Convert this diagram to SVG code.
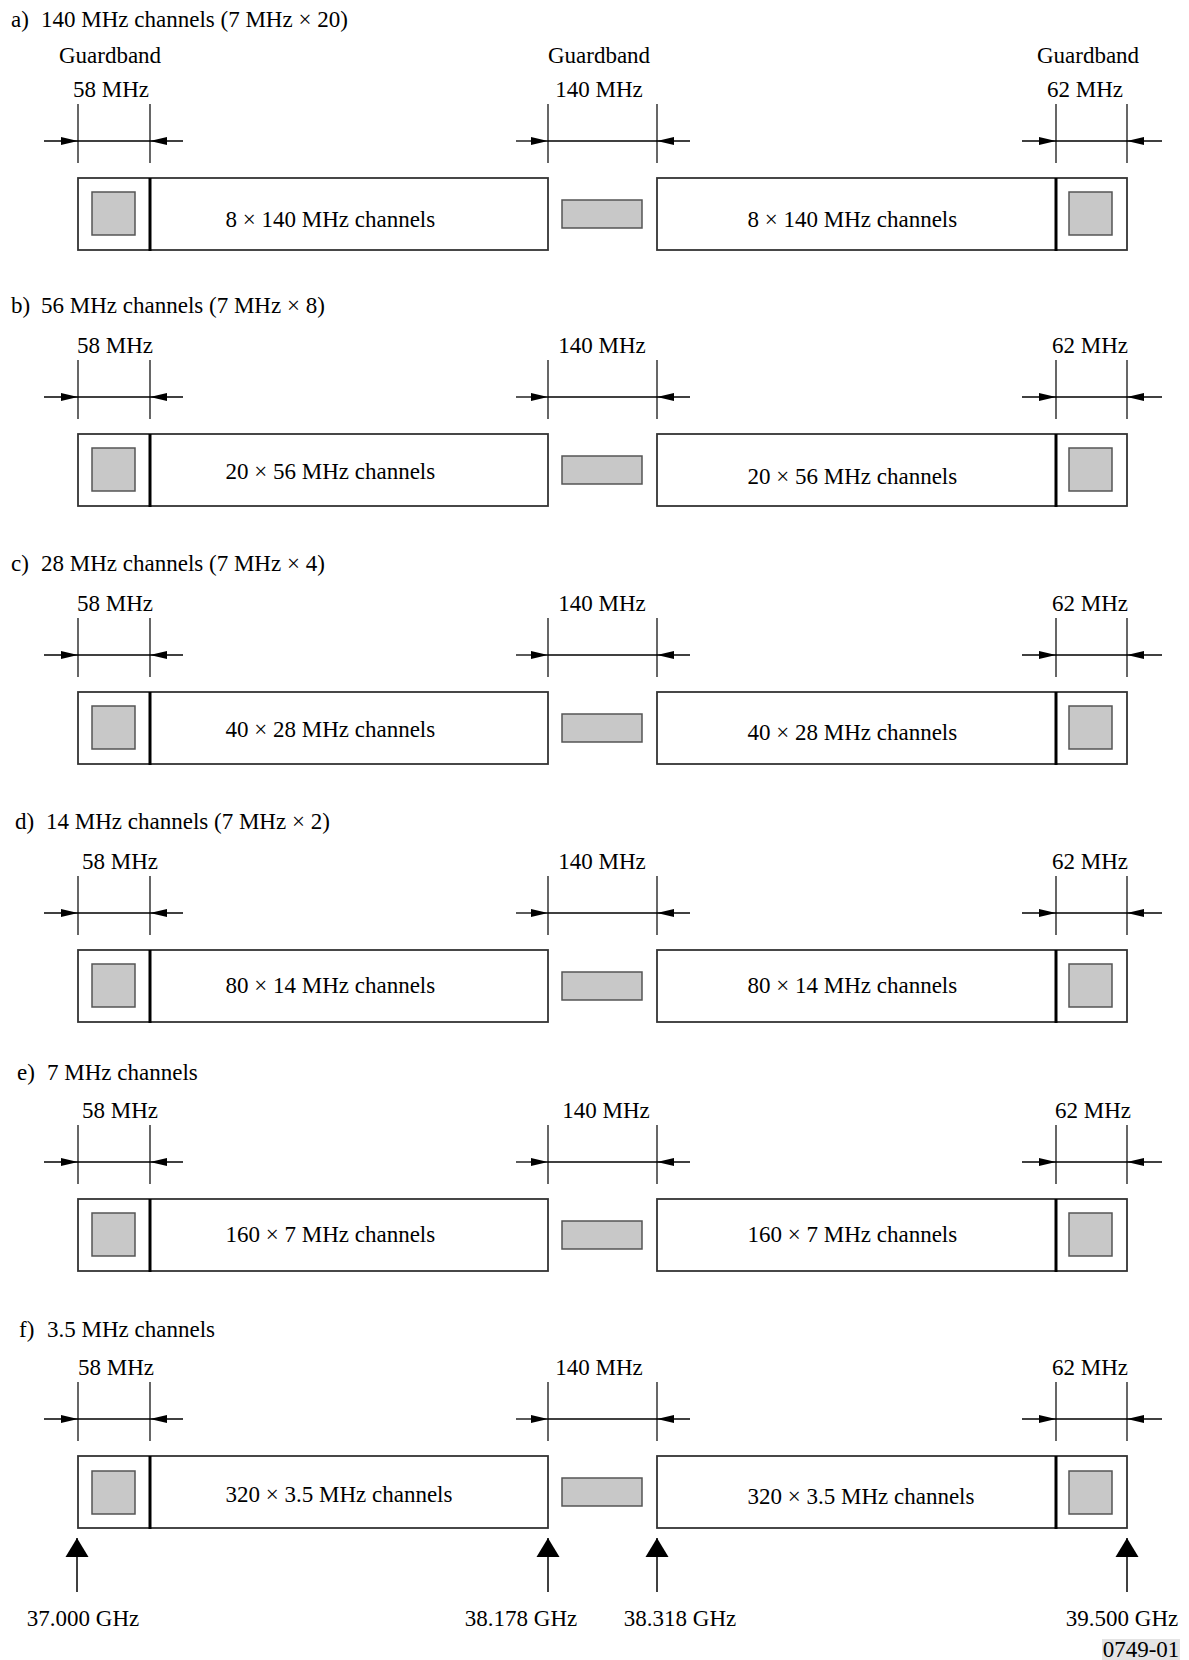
<svg xmlns="http://www.w3.org/2000/svg" width="1189" height="1660" viewBox="0 0 1189 1660">
<style>
text{font-family:"Liberation Serif","Times New Roman",serif;font-size:23px;fill:#000}
.c{text-anchor:middle}
.box{fill:#fff;stroke:#333;stroke-width:1.8}
.div{stroke:#000;stroke-width:3}
.gr{fill:#c8c8c8;stroke:#555;stroke-width:1.5}
.tk{stroke:#000;stroke-width:1.2}
.dl{stroke:#000;stroke-width:1.3;fill:none}
.da{stroke:#000;stroke-width:1.3;fill:none;marker-end:url(#ah)}
.up{stroke:#000;stroke-width:1.5;marker-end:url(#uh)}
</style>
<defs>
<marker id="ah" markerUnits="userSpaceOnUse" markerWidth="18" markerHeight="10" refX="17" refY="5" orient="auto"><path d="M0,1 L17,5 L0,9 Z" fill="#000"/></marker>
<marker id="uh" markerUnits="userSpaceOnUse" markerWidth="24" markerHeight="24" refX="19" refY="12" orient="auto"><path d="M0,0.5 L19,12 L0,23.5 Z" fill="#000"/></marker>
</defs>
<rect width="1189" height="1660" fill="#fff"/>

<!-- Section a -->
<g id="section-a">
<text x="11" y="27">a)</text><text x="41" y="27">140 MHz channels (7 MHz × 20)</text>
<text class="c" x="110" y="63">Guardband</text>
<text class="c" x="599" y="63">Guardband</text>
<text class="c" x="1088" y="63">Guardband</text>
<g id="a-dim-left"><text class="c" x="111" y="97">58 MHz</text><line class="tk" x1="78" y1="104" x2="78" y2="163"/><line class="tk" x1="150" y1="104" x2="150" y2="163"/></g>
<g id="a-dim-mid"><text class="c" x="599" y="97">140 MHz</text><line class="tk" x1="548" y1="104" x2="548" y2="163"/><line class="tk" x1="657" y1="104" x2="657" y2="163"/></g>
<g id="a-dim-right"><text class="c" x="1085" y="97">62 MHz</text><line class="tk" x1="1056" y1="104" x2="1056" y2="163"/><line class="tk" x1="1127" y1="104" x2="1127" y2="163"/></g>
<g id="a-band-left"><rect class="box" x="78" y="178" width="470" height="72"/><line class="div" x1="150" y1="178" x2="150" y2="251"/><rect class="gr" x="92" y="192" width="43" height="43"/><text x="225.5" y="227">8 × 140 MHz channels</text></g>
<g id="a-guard-mid"><rect class="gr" x="562" y="200" width="80" height="28"/></g>
<g id="a-band-right"><rect class="box" x="657" y="178" width="470" height="72"/><line class="div" x1="1056" y1="178" x2="1056" y2="251"/><rect class="gr" x="1069" y="192" width="43" height="43"/><text x="747.5" y="227">8 × 140 MHz channels</text></g>
</g>

<!-- Section b -->
<g id="section-b">
<text x="11" y="313">b)</text><text x="41" y="313">56 MHz channels (7 MHz × 8)</text>
<g id="b-dim-left"><text class="c" x="115" y="353">58 MHz</text><line class="tk" x1="78" y1="360" x2="78" y2="419"/><line class="tk" x1="150" y1="360" x2="150" y2="419"/></g>
<g id="b-dim-mid"><text class="c" x="602" y="353">140 MHz</text><line class="tk" x1="548" y1="360" x2="548" y2="419"/><line class="tk" x1="657" y1="360" x2="657" y2="419"/></g>
<g id="b-dim-right"><text class="c" x="1090" y="353">62 MHz</text><line class="tk" x1="1056" y1="360" x2="1056" y2="419"/><line class="tk" x1="1127" y1="360" x2="1127" y2="419"/></g>
<g id="b-band-left"><rect class="box" x="78" y="434" width="470" height="72"/><line class="div" x1="150" y1="434" x2="150" y2="507"/><rect class="gr" x="92" y="448" width="43" height="43"/><text x="225.5" y="479">20 × 56 MHz channels</text></g>
<g id="b-guard-mid"><rect class="gr" x="562" y="456" width="80" height="28"/></g>
<g id="b-band-right"><rect class="box" x="657" y="434" width="470" height="72"/><line class="div" x1="1056" y1="434" x2="1056" y2="507"/><rect class="gr" x="1069" y="448" width="43" height="43"/><text x="747.5" y="484">20 × 56 MHz channels</text></g>
</g>

<!-- Section c -->
<g id="section-c">
<text x="11" y="571">c)</text><text x="41" y="571">28 MHz channels (7 MHz × 4)</text>
<g id="c-dim-left"><text class="c" x="115" y="611">58 MHz</text><line class="tk" x1="78" y1="618" x2="78" y2="677"/><line class="tk" x1="150" y1="618" x2="150" y2="677"/></g>
<g id="c-dim-mid"><text class="c" x="602" y="611">140 MHz</text><line class="tk" x1="548" y1="618" x2="548" y2="677"/><line class="tk" x1="657" y1="618" x2="657" y2="677"/></g>
<g id="c-dim-right"><text class="c" x="1090" y="611">62 MHz</text><line class="tk" x1="1056" y1="618" x2="1056" y2="677"/><line class="tk" x1="1127" y1="618" x2="1127" y2="677"/></g>
<g id="c-band-left"><rect class="box" x="78" y="692" width="470" height="72"/><line class="div" x1="150" y1="692" x2="150" y2="765"/><rect class="gr" x="92" y="706" width="43" height="43"/><text x="225.5" y="737">40 × 28 MHz channels</text></g>
<g id="c-guard-mid"><rect class="gr" x="562" y="714" width="80" height="28"/></g>
<g id="c-band-right"><rect class="box" x="657" y="692" width="470" height="72"/><line class="div" x1="1056" y1="692" x2="1056" y2="765"/><rect class="gr" x="1069" y="706" width="43" height="43"/><text x="747.5" y="740">40 × 28 MHz channels</text></g>
</g>

<!-- Section d -->
<g id="section-d">
<text x="15" y="829">d)</text><text x="46" y="829">14 MHz channels (7 MHz × 2)</text>
<g id="d-dim-left"><text class="c" x="120" y="869">58 MHz</text><line class="tk" x1="78" y1="876" x2="78" y2="935"/><line class="tk" x1="150" y1="876" x2="150" y2="935"/></g>
<g id="d-dim-mid"><text class="c" x="602" y="869">140 MHz</text><line class="tk" x1="548" y1="876" x2="548" y2="935"/><line class="tk" x1="657" y1="876" x2="657" y2="935"/></g>
<g id="d-dim-right"><text class="c" x="1090" y="869">62 MHz</text><line class="tk" x1="1056" y1="876" x2="1056" y2="935"/><line class="tk" x1="1127" y1="876" x2="1127" y2="935"/></g>
<g id="d-band-left"><rect class="box" x="78" y="950" width="470" height="72"/><line class="div" x1="150" y1="950" x2="150" y2="1023"/><rect class="gr" x="92" y="964" width="43" height="43"/><text x="225.5" y="993">80 × 14 MHz channels</text></g>
<g id="d-guard-mid"><rect class="gr" x="562" y="972" width="80" height="28"/></g>
<g id="d-band-right"><rect class="box" x="657" y="950" width="470" height="72"/><line class="div" x1="1056" y1="950" x2="1056" y2="1023"/><rect class="gr" x="1069" y="964" width="43" height="43"/><text x="747.5" y="993">80 × 14 MHz channels</text></g>
</g>

<!-- Section e -->
<g id="section-e">
<text x="17" y="1080">e)</text><text x="47" y="1080">7 MHz channels</text>
<g id="e-dim-left"><text class="c" x="120" y="1118">58 MHz</text><line class="tk" x1="78" y1="1125" x2="78" y2="1184"/><line class="tk" x1="150" y1="1125" x2="150" y2="1184"/></g>
<g id="e-dim-mid"><text class="c" x="606" y="1118">140 MHz</text><line class="tk" x1="548" y1="1125" x2="548" y2="1184"/><line class="tk" x1="657" y1="1125" x2="657" y2="1184"/></g>
<g id="e-dim-right"><text class="c" x="1093" y="1118">62 MHz</text><line class="tk" x1="1056" y1="1125" x2="1056" y2="1184"/><line class="tk" x1="1127" y1="1125" x2="1127" y2="1184"/></g>
<g id="e-band-left"><rect class="box" x="78" y="1199" width="470" height="72"/><line class="div" x1="150" y1="1199" x2="150" y2="1272"/><rect class="gr" x="92" y="1213" width="43" height="43"/><text x="225.5" y="1242">160 × 7 MHz channels</text></g>
<g id="e-guard-mid"><rect class="gr" x="562" y="1221" width="80" height="28"/></g>
<g id="e-band-right"><rect class="box" x="657" y="1199" width="470" height="72"/><line class="div" x1="1056" y1="1199" x2="1056" y2="1272"/><rect class="gr" x="1069" y="1213" width="43" height="43"/><text x="747.5" y="1242">160 × 7 MHz channels</text></g>
</g>

<!-- Section f -->
<g id="section-f">
<text x="19" y="1337">f)</text><text x="47" y="1337">3.5 MHz channels</text>
<g id="f-dim-left"><text class="c" x="116" y="1375">58 MHz</text><line class="tk" x1="78" y1="1382" x2="78" y2="1441"/><line class="tk" x1="150" y1="1382" x2="150" y2="1441"/></g>
<g id="f-dim-mid"><text class="c" x="599" y="1375">140 MHz</text><line class="tk" x1="548" y1="1382" x2="548" y2="1441"/><line class="tk" x1="657" y1="1382" x2="657" y2="1441"/></g>
<g id="f-dim-right"><text class="c" x="1090" y="1375">62 MHz</text><line class="tk" x1="1056" y1="1382" x2="1056" y2="1441"/><line class="tk" x1="1127" y1="1382" x2="1127" y2="1441"/></g>
<g id="f-band-left"><rect class="box" x="78" y="1456" width="470" height="72"/><line class="div" x1="150" y1="1456" x2="150" y2="1529"/><rect class="gr" x="92" y="1471" width="43" height="43"/><text x="225.5" y="1502">320 × 3.5 MHz channels</text></g>
<g id="f-guard-mid"><rect class="gr" x="562" y="1478" width="80" height="28"/></g>
<g id="f-band-right"><rect class="box" x="657" y="1456" width="470" height="72"/><line class="div" x1="1056" y1="1456" x2="1056" y2="1529"/><rect class="gr" x="1069" y="1471" width="43" height="43"/><text x="747.5" y="1504">320 × 3.5 MHz channels</text></g>
<g id="f-freq-1"><text class="c" x="83" y="1626">37.000 GHz</text></g>
<g id="f-freq-2"><text class="c" x="521" y="1626">38.178 GHz</text></g>
<g id="f-freq-3"><text class="c" x="680" y="1626">38.318 GHz</text></g>
<g id="f-freq-4"><text class="c" x="1122" y="1626">39.500 GHz</text></g>
<g id="figure-ref"><rect x="1102" y="1639" width="78" height="21" fill="#e4e4e4"/><text class="c" x="1141" y="1657">0749-01</text></g>
</g>

<!-- Connectors: dimension arrows and frequency pointers -->
<g id="connectors">
<g id="dims-a">
<line class="da" x1="44" y1="141" x2="78" y2="141"/><line class="dl" x1="78" y1="141" x2="150" y2="141"/><line class="da" x1="183" y1="141" x2="150" y2="141"/>
<line class="da" x1="516" y1="141" x2="548" y2="141"/><line class="dl" x1="548" y1="141" x2="657" y2="141"/><line class="da" x1="690" y1="141" x2="657" y2="141"/>
<line class="da" x1="1022" y1="141" x2="1056" y2="141"/><line class="dl" x1="1056" y1="141" x2="1127" y2="141"/><line class="da" x1="1162" y1="141" x2="1127" y2="141"/>
</g>
<g id="dims-b">
<line class="da" x1="44" y1="397" x2="78" y2="397"/><line class="dl" x1="78" y1="397" x2="150" y2="397"/><line class="da" x1="183" y1="397" x2="150" y2="397"/>
<line class="da" x1="516" y1="397" x2="548" y2="397"/><line class="dl" x1="548" y1="397" x2="657" y2="397"/><line class="da" x1="690" y1="397" x2="657" y2="397"/>
<line class="da" x1="1022" y1="397" x2="1056" y2="397"/><line class="dl" x1="1056" y1="397" x2="1127" y2="397"/><line class="da" x1="1162" y1="397" x2="1127" y2="397"/>
</g>
<g id="dims-c">
<line class="da" x1="44" y1="655" x2="78" y2="655"/><line class="dl" x1="78" y1="655" x2="150" y2="655"/><line class="da" x1="183" y1="655" x2="150" y2="655"/>
<line class="da" x1="516" y1="655" x2="548" y2="655"/><line class="dl" x1="548" y1="655" x2="657" y2="655"/><line class="da" x1="690" y1="655" x2="657" y2="655"/>
<line class="da" x1="1022" y1="655" x2="1056" y2="655"/><line class="dl" x1="1056" y1="655" x2="1127" y2="655"/><line class="da" x1="1162" y1="655" x2="1127" y2="655"/>
</g>
<g id="dims-d">
<line class="da" x1="44" y1="913" x2="78" y2="913"/><line class="dl" x1="78" y1="913" x2="150" y2="913"/><line class="da" x1="183" y1="913" x2="150" y2="913"/>
<line class="da" x1="516" y1="913" x2="548" y2="913"/><line class="dl" x1="548" y1="913" x2="657" y2="913"/><line class="da" x1="690" y1="913" x2="657" y2="913"/>
<line class="da" x1="1022" y1="913" x2="1056" y2="913"/><line class="dl" x1="1056" y1="913" x2="1127" y2="913"/><line class="da" x1="1162" y1="913" x2="1127" y2="913"/>
</g>
<g id="dims-e">
<line class="da" x1="44" y1="1162" x2="78" y2="1162"/><line class="dl" x1="78" y1="1162" x2="150" y2="1162"/><line class="da" x1="183" y1="1162" x2="150" y2="1162"/>
<line class="da" x1="516" y1="1162" x2="548" y2="1162"/><line class="dl" x1="548" y1="1162" x2="657" y2="1162"/><line class="da" x1="690" y1="1162" x2="657" y2="1162"/>
<line class="da" x1="1022" y1="1162" x2="1056" y2="1162"/><line class="dl" x1="1056" y1="1162" x2="1127" y2="1162"/><line class="da" x1="1162" y1="1162" x2="1127" y2="1162"/>
</g>
<g id="dims-f">
<line class="da" x1="44" y1="1419" x2="78" y2="1419"/><line class="dl" x1="78" y1="1419" x2="150" y2="1419"/><line class="da" x1="183" y1="1419" x2="150" y2="1419"/>
<line class="da" x1="516" y1="1419" x2="548" y2="1419"/><line class="dl" x1="548" y1="1419" x2="657" y2="1419"/><line class="da" x1="690" y1="1419" x2="657" y2="1419"/>
<line class="da" x1="1022" y1="1419" x2="1056" y2="1419"/><line class="dl" x1="1056" y1="1419" x2="1127" y2="1419"/><line class="da" x1="1162" y1="1419" x2="1127" y2="1419"/>
</g>
<g id="freq-pointers">
<line class="up" x1="77" y1="1592" x2="77" y2="1538"/>
<line class="up" x1="548" y1="1592" x2="548" y2="1538"/>
<line class="up" x1="657" y1="1592" x2="657" y2="1538"/>
<line class="up" x1="1127" y1="1592" x2="1127" y2="1538"/>
</g>
</g>
</svg>
